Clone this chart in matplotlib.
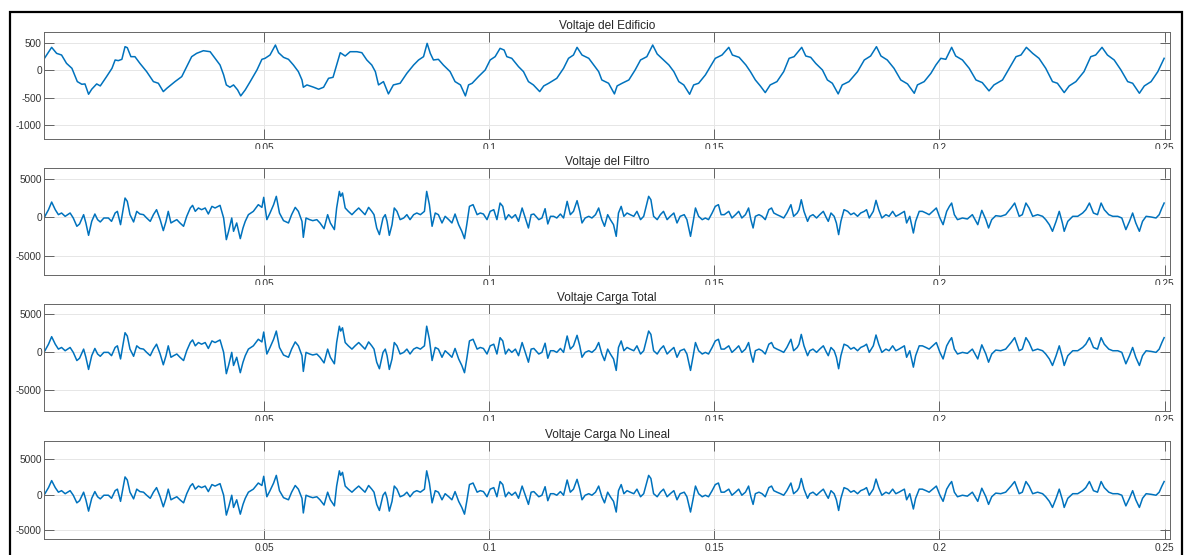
import matplotlib
matplotlib.use("Agg")
import matplotlib.pyplot as plt
from matplotlib.patches import Rectangle
import numpy as np

# Vertices: time in ms, voltage in V
t_edificio = [
    1.2, 2.8, 3.9, 5.0, 6.1, 7.3, 8.5, 9.5, 10.2, 11.0, 11.7, 12.8, 13.6, 15.0,
    16.2, 16.9, 17.6, 18.4, 19.1, 19.6, 20.4, 21.3, 22.4, 23.9, 25.4, 26.5, 27.6,
    28.4, 29.5, 30.2, 31.7, 32.8, 33.9, 35.0, 36.5, 38.0, 39.1, 40.2, 41.0, 41.6,
    42.4, 43.2, 44.1, 44.8, 45.8, 46.9, 48.4, 49.5, 50.2, 51.3, 52.5, 53.2, 54.3,
    55.4, 56.5, 57.6, 58.4, 58.7, 59.5, 61.0, 62.1, 63.2, 64.3, 65.3, 66.2, 66.9,
    68.0, 69.1, 70.6, 71.7, 72.8, 73.9, 74.7, 75.4, 76.5, 77.6, 78.7, 80.2, 81.7,
    83.2, 84.3, 85.4, 86.2, 86.9, 87.6, 88.7, 89.8, 91.3, 92.4, 93.6, 94.7, 95.4,
    96.2, 97.6, 99.1, 100.2, 101.3, 102.4, 103.3, 103.9, 105.0, 106.5, 107.6,
    108.7, 109.8, 111.2, 112.1, 113.2, 115.0, 116.5, 117.6, 118.7, 119.5, 120.6,
    122.1, 123.2, 124.3, 125.0, 126.5, 127.8, 128.4, 129.5, 131.0, 132.4, 133.6,
    135.0, 136.3, 137.3, 138.7, 139.9, 141.0, 142.1, 143.2, 144.5, 145.4, 146.5,
    148.0, 149.1, 150.2, 151.7, 153.2, 154.0, 155.5, 157.0, 158.0, 159.1, 160.2,
    161.3, 162.4, 163.9, 165.4, 166.6, 167.7, 169.4, 170.3, 171.4, 172.5, 174.0,
    175.1, 176.2, 177.5, 178.4, 179.9, 181.8, 183.3, 184.7, 186.0, 187.0, 188.4,
    189.9, 191.4, 192.9, 194.4, 195.1, 196.6, 198.1, 199.2, 200.3, 201.4, 202.7,
    203.6, 205.1, 206.6, 208.1, 209.5, 211.0, 212.1, 214.0, 215.5, 217.0, 218.1,
    219.3, 220.7, 222.1, 223.6, 225.1, 226.2, 227.7, 228.8, 230.3, 232.1, 233.6,
    234.7, 236.1, 237.3, 238.8, 240.3, 241.8, 242.9, 244.4, 245.5, 247.0, 248.5,
    249.9,
]
v_edificio = [
    217, 416, 307, 277, 126, 36, -205, -253, -247, -434, -343, -247, -283, -114,
    36, 187, 175, 199, 428, 410, 247, 247, 126, -24, -205, -235, -386,
    -325, -253, -205, -114, 66, 247, 307, 355, 337, 217, 96, -84, -265,
    -307, -265, -355, -464, -355, -205, 6, 199, 217, 277, 458, 319, 235,
    199, 96, -24, -175, -307, -265, -307, -343, -307, -145, -127, 126, 319,
    259, 337, 337, 319, 187, 96, -24, -265, -205, -428, -265, -235, -54,
    96, 187, 247, 488, 307, 187, 199, 96, -24, -205, -265, -464, -265,
    -235, -114, 6, 187, 247, 398, 367, 247, 217, 66, -24,
    -205, -265, -386, -283, -235, -145, 36, 217, 277, 416, 277,
    217, 96, -24, -175, -235, -428, -283, -235, -175, 6, 187,
    247, 458, 295, 187, 96, -24, -205, -265, -434, -265, -235,
    -84, 66, 217, 277, 416, 277, 235, 96, -24, -175, -283,
    -404, -265, -205, -24, 217, 247, 416, 259, 235, 126, 6,
    -175, -235, -428, -265, -205, -24, 187, 259, 428, 259, 187,
    36, -175, -247, -416, -265, -205, -54, 96, 217, 199, 416,
    259, 187, 36, -175, -223, -373, -265, -175, 36, 247, 277,
    416, 307, 217, 36, -205, -235, -404, -283, -205, -24, 247,
    277, 416, 277, 187, 6, -205, -235, -416, -283, -205, -24,
    217,
]

# Filtro, Carga Total and Carga No Lineal are indistinguishable in the picture
t_carga = [
    1.3, 2.1, 2.8, 3.6, 4.3, 5.0, 5.8, 6.9, 7.6, 8.4, 9.0, 9.9, 10.4, 11.0, 11.7,
    12.4, 13.0, 13.6, 14.4, 15.4, 16.1, 16.9, 17.4, 18.1, 19.1, 19.6, 20.2, 21.0,
    21.7, 22.4, 23.2, 23.9, 24.7, 25.4, 26.1, 26.9, 27.6, 28.2, 28.7, 29.3, 29.9,
    30.6, 31.3, 32.1, 32.8, 33.6, 34.1, 34.7, 35.4, 36.1, 36.9, 37.6, 38.4, 39.1,
    40.2, 41.0, 41.6, 42.1, 42.8, 43.2, 43.9, 44.7, 45.3, 45.8, 46.5, 47.6, 48.7,
    49.5, 49.9, 50.6, 51.3, 52.1, 52.7, 53.4, 54.3, 55.4, 56.1, 56.9, 57.6, 58.4,
    58.7, 59.3, 60.1, 60.8, 61.7, 62.4, 63.3, 64.1, 64.7, 65.6, 66.1, 66.7, 67.0,
    67.4, 68.0, 68.7, 69.5, 70.2, 71.0, 71.7, 72.4, 73.2, 73.9, 74.4, 75.0, 75.6,
    76.4, 76.9, 77.3, 77.8, 78.4, 78.9, 79.5, 80.2, 81.0, 81.7, 82.4, 83.2, 83.9,
    84.7, 85.6, 86.1, 86.7, 87.3, 88.0, 88.7, 89.5, 90.2, 91.0, 91.7, 92.4, 93.2,
    93.9, 94.5, 95.0, 95.6, 96.4, 97.3, 98.0, 98.7, 99.5, 100.2, 101.0, 101.7,
    102.4, 103.0, 103.6, 104.3, 105.0, 105.8, 106.5, 107.3, 108.0, 108.7, 109.3,
    109.9, 111.0, 111.7, 112.4, 113.0, 113.6, 114.3, 115.0, 115.8, 116.5, 117.3,
    118.0, 118.7, 119.5, 120.1, 120.6, 121.3, 122.1, 122.8, 123.6, 124.3, 125.0,
    125.6, 126.3, 126.9, 127.6, 128.2, 128.7, 129.3, 129.9, 130.6, 131.3, 132.1,
    132.8, 133.6, 134.3, 135.4, 135.9, 136.5, 137.3, 138.0, 138.7, 139.5, 140.2,
    141.0, 141.7, 142.4, 143.3, 143.9, 144.7, 145.3, 145.8, 146.5, 147.3, 148.0,
    148.7, 149.5, 150.2, 150.9, 151.5, 152.2, 153.2, 153.9, 154.7, 155.4, 156.1,
    156.9, 157.6, 158.1, 158.6, 159.1, 159.9, 160.6, 161.3, 162.1, 162.7, 163.2,
    163.9, 164.7, 165.4, 166.1, 167.0, 167.6, 168.4, 168.8, 169.3, 169.9, 170.7,
    171.2, 171.9, 172.7, 173.4, 174.2, 174.9, 175.3, 175.9, 176.6, 177.1, 177.6,
    178.1, 178.8, 179.6, 180.3, 181.0, 181.8, 182.5, 183.3, 183.8, 184.4, 185.3,
    185.9, 186.5, 187.2, 188.1, 188.8, 189.6, 190.3, 191.0, 192.2, 192.7, 193.4,
    194.2, 194.7, 195.5, 196.2, 197.0, 197.7, 198.5, 199.3, 200.1, 200.8, 201.6,
    202.2, 202.7, 203.3, 204.0, 205.1, 206.2, 207.3, 208.5, 209.4, 210.3, 210.9,
    211.6, 212.5, 213.6, 214.7, 215.9, 216.7, 217.7, 218.4, 219.2, 219.9, 220.7,
    221.8, 222.9, 223.6, 224.4, 225.1, 225.9, 226.6, 227.3, 227.7, 228.5, 229.6,
    230.7, 231.8, 232.5, 233.3, 234.2, 235.1, 235.9, 236.6, 237.6, 238.5, 239.6,
    240.5, 241.4, 242.2, 242.9, 243.6, 244.4, 245.1, 245.9, 247.0, 248.1, 248.8,
    249.4, 249.9,
]
v_carga = [
    130, 990, 1980, 990, 345, 560, 130, 560, -86, -1160, -860, 345, -730, -2330, -520,
    430, -300, -600, -86, -86, -520, 560, 775, -950, 2500, 2070, 345, -600,
    775, 430, 345, -86, -520, 345, 990, -300, -1720, -520, 775, -730, -520,
    -300, -730, -1160, 130, 1210, 1550, 775, 1210, 990, 1210, 430, 1420, 1210,
    1550, -86, -2890, -1810, -86, -1810, -730, -2760, -1380, -520, 345, 775, 1640,
    1290, 2590, -300, 560, 1640, 2720, 560, -430, -730, 345, 1290, 775, -520,
    -2590, -86, -300, -430, -300, -730, -1470, 345, -730, -1590, 1210, 3360, 2720,
    3150, 1210, 775, 345, 775, 1210, 775, 345, 1290, 775, 345, -1380, -2240,
    -86, 345, -520, -2330, -950, 1210, 775, -300, -86, 345, -300, 345, 560,
    345, 775, 3360, 1640, -1160, 560, 345, -730, 130, -300, -730, 430, -950,
    -1810, -2760, -950, 1420, 1640, 345, 560, 430, -300, 775, 990, -300,
    1850, 1420, -300, 345, -86, 345, -520, 1210, -86, -1380, 345,
    430, -300, -86, 1120, -860, 130, 130, -86, 430, -86, 2070,
    345, 775, 2160, 775, -730, -86, 130, -86, 345, 1210, -300,
    -1160, 345, -300, -950, -2460, 560, 1420, 130, 560, 345, 130,
    775, -300, 130, 2720, 2280, 130, -300, 345, 775, -300, 130,
    560, -730, 130, 345, -300, -2460, -520, 1210, 130, -300, -86,
    -300, 560, 1420, 1640, 345, 345, 775, -86, 345, 775, -86,
    345, 1210, -300, -1380, 130, 345, 130, -300, 990, 1210, 560,
    345, 130, -86, 560, 1640, 130, 560, 990, 2280, 775, -520,
    130, 345, -86, 345, 775, -86, -520, 560, 130, -730, -2240,
    -520, 990, 775, 345, 560, 130, 560, 775, 990, -86, 775,
    2200, 990, -86, 345, 130, 775, 130, 345, 775, -730, 130,
    -2030, -520, 775, 775, 560, 345, 775, 1210, -86, -950, 775,
    1420, 1850, 345, -300, -86, -215, 345, -950, 905, -300, -1380,
    -300, 215, 130, 345, 1210, 1850, 130, 345, 1850, 1210, 130,
    345, 130, -300, -950, -1810, -520, 775, -730, -1810, -520, 130,
    130, 560, 990, 1850, 560, 345, 1850, 990, 345, 130, 130,
    -86, -1590, -520, 560, -730, -1810, -520, 130, 43, -86, 345,
    1210, 1850,
]

titles = ["Voltaje del Edificio", "Voltaje del Filtro",
          "Voltaje Carga Total", "Voltaje Carga No Lineal"]
y_ticks = [[-1000, -500, 0, 500], [-5000, 0, 5000], [-5000, 0, 5000], [-5000, 0, 5000]]
y_limits = [(-1245, 694), (-7470, 6390), (-7800, 6280), (-6270, 7620)]
x_ticks = [0.05, 0.1, 0.15, 0.2, 0.25]
x_tick_labels = ["0.05", "0.1", "0.15", "0.2", "0.25"]
x_limits = (0.0011, 0.2512)

series = [(t_edificio, v_edificio), (t_carga, v_carga),
          (t_carga, v_carga), (t_carga, v_carga)]

W, H = 1189, 555
# axes boxes in pixels: (top, bottom)
boxes = [(32, 139), (168, 275), (304, 411), (440.7, 539)]
left_px, right_px = 44, 1170

plt.rcParams['font.family'] = ['Liberation Sans', 'DejaVu Sans']
fig = plt.figure(figsize=(W / 100, H / 100), dpi=100)

# outer black frame
fig.patches.append(Rectangle((10 / W, -0.05), 1172 / W, 1 - 12 / H + 0.05,
                             transform=fig.transFigure, fill=False,
                             edgecolor='black', linewidth=1.6))

axes = []
for i, (top, bottom) in enumerate(boxes):
    ax = fig.add_axes([left_px / W, 1 - bottom / H,
                       (right_px - left_px) / W, (bottom - top) / H])
    t, v = series[i]
    ax.plot(np.array(t) / 1000.0, v, color='#0072BD', linewidth=1.1)
    ax.set_xlim(*x_limits)
    ax.set_ylim(*y_limits[i])
    ax.set_xticks(x_ticks)
    ax.set_xticklabels(x_tick_labels)
    ax.set_yticks(y_ticks[i])
    ax.set_yticklabels([str(y) for y in y_ticks[i]])
    ax.grid(True, color='#e6e6e6', linewidth=0.7)
    ax.set_axisbelow(True)
    ax.tick_params(direction='in', length=7.2, width=0.6, colors='#4d4d4d',
                   labelcolor='#333333', labelsize=7.3, top=True, right=True, pad=3)
    ax.tick_params(axis='y', pad=1.5)
    for s in ax.spines.values():
        s.set_color('#666666')
        s.set_linewidth(0.7)
    ax.set_title(titles[i], fontsize=8.6, color='#262626', pad=2)
    axes.append(ax)

# next panel hides the lower half of the previous panel's tick labels
for i in range(1, 4):
    prev_bottom = boxes[i - 1][1]
    top = boxes[i][0]
    cover = Rectangle((left_px / W - 0.01, 1 - (top - 1) / H), (right_px - left_px) / W + 0.02,
                      (top - 1 - prev_bottom - 9.5) / H, transform=fig.transFigure,
                      facecolor='white', edgecolor='none', clip_on=False, zorder=0.5)
    axes[i].add_artist(cover)

fig.savefig("out.png", dpi=100)
